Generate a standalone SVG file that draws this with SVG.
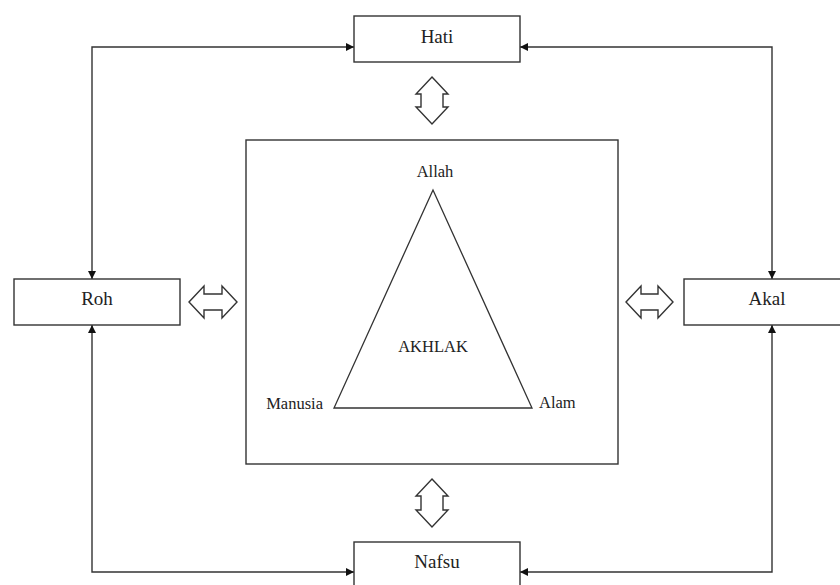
<svg xmlns="http://www.w3.org/2000/svg" width="840" height="585" viewBox="0 0 840 585">
<style>
.box{fill:#fff;stroke:#333;stroke-width:1.4}
text{font-family:'Liberation Serif',serif;fill:#222}
.lbl{font-size:19px;text-anchor:middle}
.in{font-size:16.5px}
.con{fill:none;stroke:#333;stroke-width:1.4;marker-start:url(#ah);marker-end:url(#ah)}
.dbl{fill:#fff;stroke:#333;stroke-width:1.4;stroke-linejoin:miter}
</style>
<defs>
<marker id="ah" viewBox="0 0 10 10" refX="10" refY="5" markerUnits="userSpaceOnUse" markerWidth="9" markerHeight="8" orient="auto-start-reverse">
<path d="M0,0 L10,5 L0,10 z" fill="#111"/>
</marker>
</defs>
<rect width="840" height="585" fill="#fff"/>
<g id="connectors">
<path class="con" d="M354,47 H92 V279"/>
<path class="con" d="M520,47 H772 V279"/>
<path class="con" d="M92,325 V572 H354"/>
<path class="con" d="M772,325 V572 H520"/>
<polygon class="dbl" points="432,77 448,94 443,94 443,107 448,107 432,124 416,107 421,107 421,94 416,94"/>
<polygon class="dbl" points="432,479 448,496 443,496 443,510 448,510 432,527 416,510 421,510 421,496 416,496"/>
<polygon class="dbl" points="189,302 204,286 204,294 222,294 222,286 237,302 222,318 222,310 204,310 204,318"/>
<polygon class="dbl" points="626,302 641,286 641,294 658,294 658,286 673,302 658,318 658,310 641,310 641,318"/>
</g>
<g id="hati"><rect class="box" x="354" y="16" width="166" height="46"/><text class="lbl" x="437" y="42.5" font-family="Liberation Serif, serif">Hati</text></g>
<g id="roh"><rect class="box" x="14" y="279" width="166" height="46"/><text class="lbl" x="97" y="305" font-family="Liberation Serif, serif">Roh</text></g>
<g id="akal"><rect class="box" x="684" y="279" width="166" height="46"/><text class="lbl" x="767" y="305" font-family="Liberation Serif, serif">Akal</text></g>
<g id="nafsu"><rect class="box" x="354" y="542" width="166" height="46"/><text class="lbl" x="437" y="567.5" font-family="Liberation Serif, serif">Nafsu</text></g>
<g id="akhlak">
<rect class="box" x="246" y="140" width="372" height="324"/>
<polygon points="433,190 334,408 532,408" fill="none" stroke="#333" stroke-width="1.3"/>
<text class="in" x="435" y="177" text-anchor="middle" font-family="Liberation Serif, serif">Allah</text>
<text class="in" x="433" y="352" text-anchor="middle" font-family="Liberation Serif, serif">AKHLAK</text>
<text class="in" x="323" y="409" text-anchor="end" font-family="Liberation Serif, serif">Manusia</text>
<text class="in" x="539" y="408" font-family="Liberation Serif, serif">Alam</text>
</g>
</svg>
